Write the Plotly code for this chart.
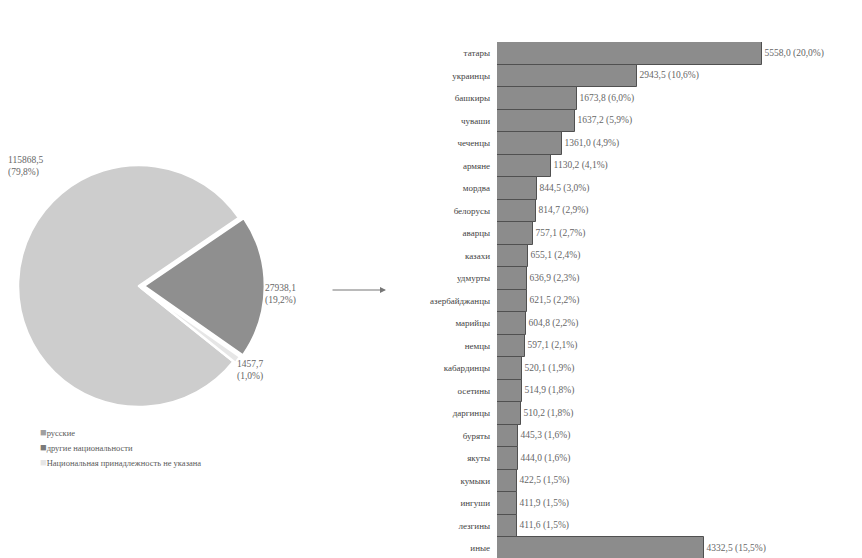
import plotly.graph_objects as go

# Pie data (thousand people)
pie_labels = ["русские", "другие национальности", "Национальная принадлежность не указана"]
pie_values = [115868.5, 27938.1, 1457.7]
pie_colors = ["#cdcdcd", "#8f8f8f", "#e6e6e6"]
legend_marker_colors = ["#a0a0a0", "#7a7a7a", "#e6e6e6"]

# Bar data: other nationalities (thousand people) and share of the group
bar_cats = ["татары", "украинцы", "башкиры", "чуваши", "чеченцы", "армяне", "мордва",
            "белорусы", "аварцы", "казахи", "удмурты", "азербайджанцы", "марийцы", "немцы",
            "кабардинцы", "осетины", "даргинцы", "буряты", "якуты", "кумыки", "ингуши",
            "лезгины", "иные"]
bar_values = [5558.0, 2943.5, 1673.8, 1637.2, 1361.0, 1130.2, 844.5, 814.7, 757.1, 655.1,
              636.9, 621.5, 604.8, 597.1, 520.1, 514.9, 510.2, 445.3, 444.0, 422.5, 411.9,
              411.6, 4332.5]
bar_shares = ["20,0", "10,6", "6,0", "5,9", "4,9", "4,1", "3,0", "2,9", "2,7", "2,4", "2,3",
              "2,2", "2,2", "2,1", "1,9", "1,8", "1,8", "1,6", "1,6", "1,5", "1,5", "1,5", "15,5"]

FONT = "Liberation Serif"
TXT = "#5a5a5a"

# page has an 8px body margin: figure occupies 854x550 starting at (8, 8)
OFF, W, H = 8, 854, 550


def px(x):
    return (x - OFF) / W


def py(y):
    return 1 - (y - OFF) / H


fig = go.Figure()

R = 121
cx, cy = 139, 286
pull_max = 0.04
half = R * (1 + pull_max)
fig.add_trace(go.Pie(
    labels=pie_labels, values=pie_values, sort=False, direction="clockwise",
    rotation=128.6, pull=[0, 0.04, 0.02],
    marker=dict(colors=pie_colors, line=dict(color="white", width=2.5)),
    textinfo="none", hoverinfo="label+value+percent",
    domain=dict(x=[px(cx - half), px(cx + half)], y=[py(cy + half), py(cy - half)]),
    showlegend=False,
))

fig.add_trace(go.Bar(
    y=bar_cats, x=bar_values, orientation="h",
    customdata=bar_shares,
    texttemplate="%{x:.1f} (%{customdata}%)", textposition="outside",
    textfont=dict(family=FONT, size=9.5, color="#666666"),
    cliponaxis=False,
    marker=dict(color="#8c8c8c", line=dict(color="#505050", width=1)),
    showlegend=False, xaxis="x", yaxis="y",
))

# pie value labels
total = sum(pie_values)
pie_label_pos = [(6, 153), (263, 281), (235, 357)]
for v, (lx, ly) in zip(pie_values, pie_label_pos):
    fig.add_annotation(
        x=px(lx), y=py(ly), xref="paper", yref="paper", xanchor="left", yanchor="top",
        text=f"{v:.1f}".replace(".", ",") + "<br>(" + f"{100*v/total:.1f}".replace(".", ",") + "%)",
        showarrow=False, align="left", font=dict(family=FONT, size=9.5, color="#666666"),
    )

# manual compact legend
for i, (lab, col) in enumerate(zip(pie_labels, legend_marker_colors)):
    fig.add_annotation(
        x=px(38), y=py(432 + 15 * i), xref="paper", yref="paper", xanchor="left", yanchor="middle",
        text=f"<span style='color:{col};font-size:11px'>■</span>{lab}", showarrow=False,
        font=dict(family=FONT, size=8.5, color=TXT),
    )

# arrow between charts
fig.add_annotation(
    x=px(386), y=py(290), xref="paper", yref="paper",
    ax=-55, ay=0, axref="pixel", ayref="pixel", text="",
    showarrow=True, arrowhead=2, arrowsize=1, arrowwidth=1.2, arrowcolor="#777777",
)

n = len(bar_cats)
fig.update_layout(
    width=W, height=H, margin=dict(l=0, r=0, t=0, b=0),
    paper_bgcolor="white", plot_bgcolor="white",
    separators=", ",
    font=dict(family=FONT, size=9, color=TXT),
    bargap=0.0,
    xaxis=dict(domain=[px(497), 1], range=[0, 7655], visible=False, fixedrange=True),
    yaxis=dict(domain=[0, py(42)], range=[n - 0.57, -0.5], showgrid=False, zeroline=False,
               showline=False, ticks="", tickfont=dict(family=FONT, size=9, color="#444444"),
               ticklabelstandoff=6, automargin=False),
)

fig.write_html("out.html")
